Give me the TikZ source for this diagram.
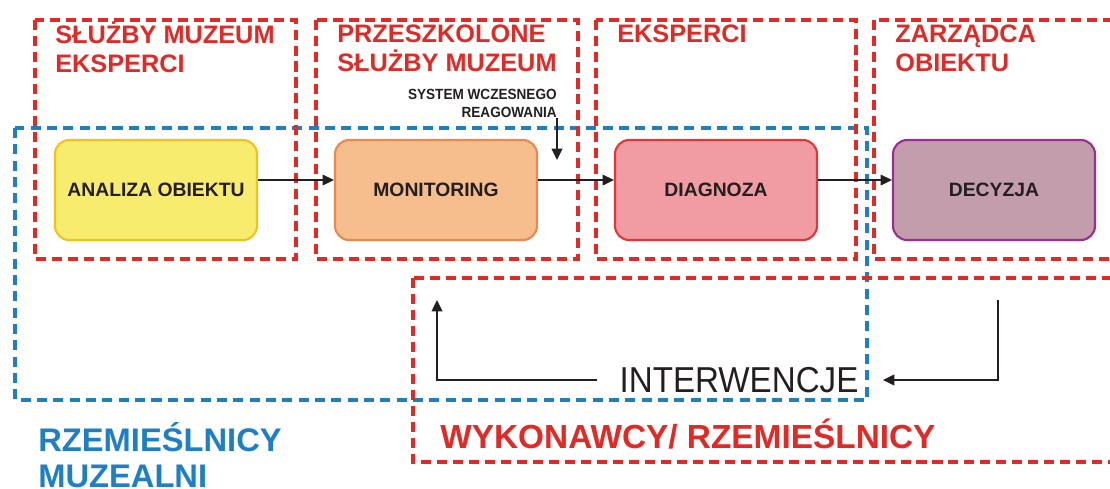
\documentclass[tikz,border=0pt]{standalone}
\usepackage{fontspec}
\setmainfont{Liberation Sans}
\newfontfamily\narrowfont[FakeStretch=0.92]{Liberation Sans}
\usetikzlibrary{arrows.meta}
\definecolor{redd}{HTML}{E12A26}
\definecolor{blued}{HTML}{1E7FC6}
\definecolor{ink}{HTML}{231F20}
\definecolor{yelF}{HTML}{F8EC6E}\definecolor{yelD}{HTML}{F2C21B}
\definecolor{oraF}{HTML}{F6BE8C}\definecolor{oraD}{HTML}{EA8850}
\definecolor{pinF}{HTML}{F09CA2}\definecolor{pinD}{HTML}{E3353A}
\definecolor{mauF}{HTML}{C39DAB}\definecolor{mauD}{HTML}{9B2D93}
\tikzset{
  redbox/.style={draw=redd, line width=2.3pt, dash pattern=on 5.7pt off 3.4pt},
  bluebox/.style={draw=blued, line width=2.3pt, dash pattern=on 5.7pt off 3.6pt},
  stepbox/.style={rounded corners=8pt, line width=1.2pt, minimum width=4.04cm, minimum height=2cm,
     font=\fontsize{11}{13}\selectfont\bfseries, text=ink, inner sep=0pt},
  hdr/.style={text=redd, font=\fontsize{14.4}{16}\selectfont\bfseries, inner sep=0pt, anchor=base west},
  arr/.style={draw=ink, line width=1.2pt, -{Triangle[length=6.5pt,width=6pt]}},
}
\begin{document}
\begin{tikzpicture}[x=0.02cm,y=-0.02cm]
\useasboundingbox (0,0) rectangle (1110,488);
\clip (0,0) rectangle (1110,488);
\fill[white] (0,0) rectangle (1110,488);
% blue group
\draw[bluebox] (15,128) rectangle (867,400);
% red groups
\draw[redbox] (35,20) rectangle (296,259);
\draw[redbox] (316,20) rectangle (578,259);
\draw[redbox] (596,20) rectangle (856,259);
\draw[redbox] (874,20) rectangle (1130,259);
\draw[redbox] (413,278) rectangle (1130,462);
% headers
\node[hdr] (h1a) at (55,43) {SŁUŻBY MUZEUM};
\node[hdr] (h1b) at (55,72) {EKSPERCI};
\node[hdr] (h2a) at (337,42) {PRZESZKOLONE};
\node[hdr] (h2b) at (337,71) {SŁUŻBY MUZEUM};
\node[hdr] (h3a) at (617,42) {EKSPERCI};
\node[hdr] (h4a) at (895,42) {ZARZĄDCA};
\node[hdr] (h4b) at (895,71) {OBIEKTU};
% steps
\node[stepbox, fill=yelF, draw=yelD] (an) at (156,190) {ANALIZA OBIEKTU};
\node[stepbox, fill=oraF, draw=oraD] (mo) at (436,190) {MONITORING};
\node[stepbox, fill=pinF, draw=pinD] (di) at (716,190) {DIAGNOZA};
\node[stepbox, fill=mauF, draw=mauD] (de) at (994,190) {DECYZJA};
\draw[arr] ([yshift=0.2cm]an.east) -- ([yshift=0.2cm]mo.west);
\draw[arr] ([yshift=0.2cm]mo.east) -- ([yshift=0.2cm]di.west);
\draw[arr] ([yshift=0.2cm]di.east) -- ([yshift=0.2cm]de.west);
% early warning
\node[anchor=south east, inner sep=0pt, align=right, text=ink,
      font=\narrowfont\fontsize{8.4}{10.2}\selectfont\bfseries] (sw) at (557,118)
      {SYSTEM WCZESNEGO\\REAGOWANIA};
\coordinate (swend) at (557,160);
\draw[arr] (sw.south east) -- (swend);
% interventions
\node[inner sep=0pt, minimum width=5.6cm, minimum height=0.6cm, text=ink,
      font=\narrowfont\fontsize{20.5}{22}\selectfont] (iv) at (739,380) {INTERWENCJE};
\coordinate (rtop) at (998,300);
\coordinate (ltop) at (437,300);
\draw[arr] (rtop) |- ([xshift=2pt]iv.east);
\draw[arr] ([xshift=-1pt]iv.west) -| (ltop);
% bottom labels
\node[anchor=base west, inner sep=0pt, text=redd, font=\fontsize{19}{21}\selectfont\bfseries] (wyk) at (440,448) {WYKONAWCY/ RZEMIEŚLNICY};
\node[anchor=base west, inner sep=0pt, text=blued, font=\fontsize{18.6}{21}\selectfont\bfseries] (rz1) at (38,451) {RZEMIEŚLNICY};
\node[anchor=base west, inner sep=0pt, text=blued, font=\fontsize{18.6}{21}\selectfont\bfseries] (rz2) at (38,487) {MUZEALNI};
\end{tikzpicture}
\end{document}
